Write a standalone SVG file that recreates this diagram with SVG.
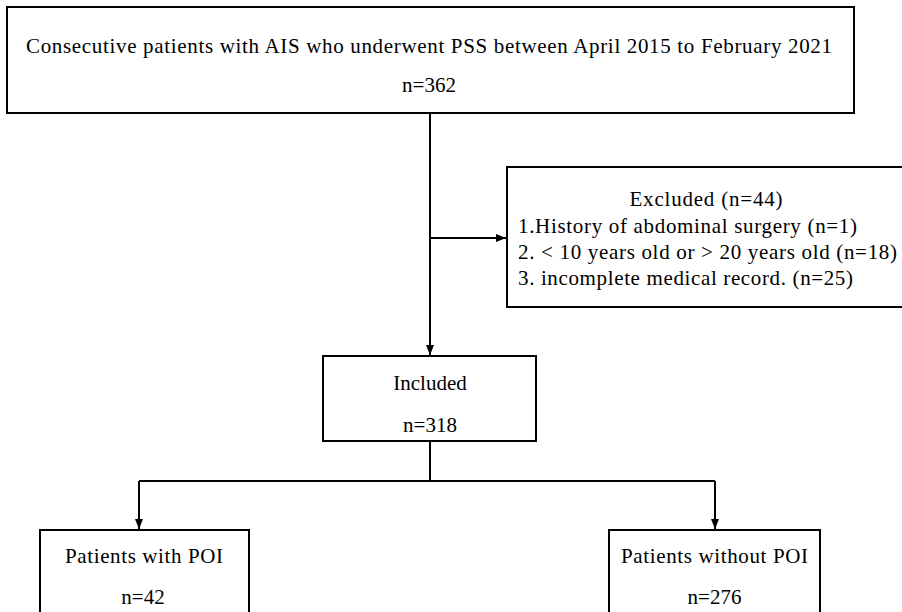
<svg xmlns="http://www.w3.org/2000/svg" width="902" height="612" viewBox="0 0 902 612">
<style>
.box{fill:#fff;stroke:#000;stroke-width:2}
.ln{fill:none;stroke:#000;stroke-width:2}
text{font-family:"Liberation Serif","Times New Roman",serif;font-size:21px;fill:#000}
.c{text-anchor:middle}
</style>
<defs>
<marker id="arr" viewBox="0 0 10 10" refX="10" refY="5" markerWidth="10" markerHeight="10" markerUnits="userSpaceOnUse" orient="auto">
<path d="M0,1 L10,5 L0,9 z" fill="#000"/>
</marker>
</defs>
<rect width="902" height="612" fill="#fff"/>
<g id="connectors">
<path class="ln" d="M430,113 V355" marker-end="url(#arr)"/>
<path class="ln" d="M430,238 H506" marker-end="url(#arr)"/>
<path class="ln" d="M430,441 V481"/>
<path class="ln" d="M139,481 H715"/>
<path class="ln" d="M139,481 V529" marker-end="url(#arr)"/>
<path class="ln" d="M715,481 V529" marker-end="url(#arr)"/>
</g>
<g id="n_start">
<rect class="box" x="7" y="7" width="847" height="106"/>
<text class="c" x="429" y="53" textLength="806" lengthAdjust="spacing">Consecutive patients with AIS who underwent PSS between April 2015 to February 2021</text>
<text class="c" x="429" y="92">n=362</text>
</g>
<g id="n_excluded">
<rect class="box" x="507" y="167" width="400" height="140"/>
<text class="c" x="706" y="206" textLength="153" lengthAdjust="spacing">Excluded (n=44)</text>
<text x="518" y="233" textLength="339" lengthAdjust="spacing">1.History of abdominal surgery (n=1)</text>
<text x="518" y="259" textLength="379" lengthAdjust="spacing">2. &lt; 10 years old or &gt; 20 years old (n=18)</text>
<text x="518" y="285" textLength="335" lengthAdjust="spacing">3. incomplete medical record. (n=25)</text>
</g>
<g id="n_included">
<rect class="box" x="323" y="356" width="213" height="85"/>
<text class="c" x="430" y="390">Included</text>
<text class="c" x="430" y="432">n=318</text>
</g>
<g id="n_poi">
<rect class="box" x="40" y="530" width="209" height="90"/>
<text class="c" x="144" y="563" textLength="158" lengthAdjust="spacing">Patients with POI</text>
<text class="c" x="143" y="604">n=42</text>
</g>
<g id="n_nopoi">
<rect class="box" x="609" y="530" width="211" height="90"/>
<text class="c" x="714.5" y="563" textLength="187" lengthAdjust="spacing">Patients without POI</text>
<text class="c" x="714.5" y="604">n=276</text>
</g>
</svg>
